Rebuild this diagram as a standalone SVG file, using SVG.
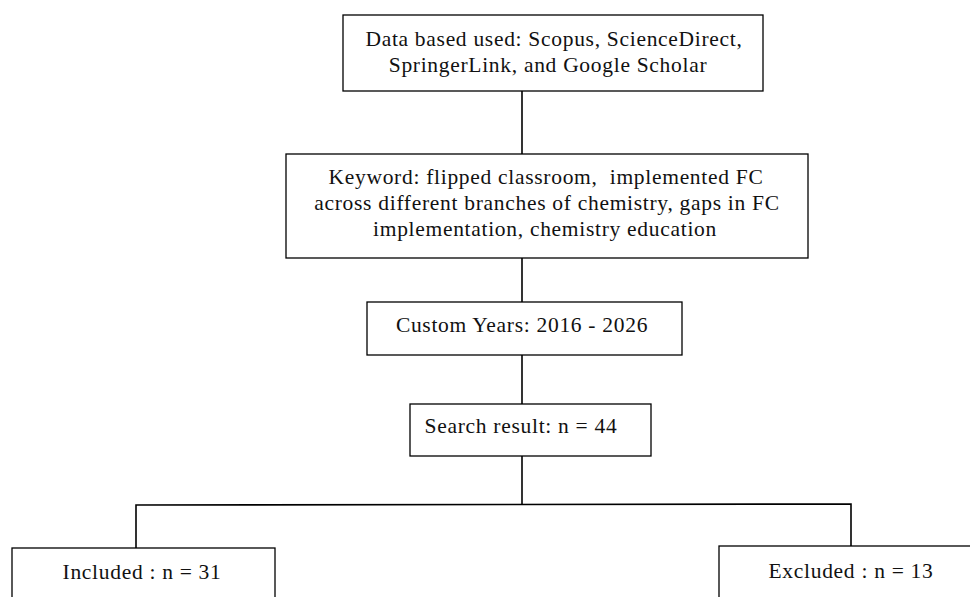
<svg xmlns="http://www.w3.org/2000/svg" width="970" height="597" viewBox="0 0 970 597">
<style>
.box{fill:#fff;stroke:#000;stroke-width:1.3}
.ln{stroke:#000;stroke-width:1.6;fill:none}
text{font-family:"Liberation Serif",serif;font-size:21.5px;letter-spacing:0.7px;fill:#111;text-anchor:middle}
</style>
<rect width="970" height="597" fill="#fff"/>
<g id="connectors">
<line class="ln" x1="522" y1="91" x2="522" y2="154"/>
<line class="ln" x1="522" y1="258" x2="522" y2="302"/>
<line class="ln" x1="522" y1="355" x2="522" y2="404"/>
<line class="ln" x1="522" y1="456" x2="522" y2="505"/>
<polyline class="ln" points="136,548 136,505 851,504 851,546"/>
</g>
<g id="n1"><rect class="box" x="343" y="15" width="420" height="76"/>
<text x="554" y="46">Data based used: Scopus, ScienceDirect,</text>
<text x="548" y="72">SpringerLink, and Google Scholar</text></g>
<g id="n2"><rect class="box" x="286" y="154" width="522" height="104"/>
<text x="546" y="184" xml:space="preserve">Keyword: flipped classroom,  implemented FC</text>
<text x="547" y="210">across different branches of chemistry, gaps in FC</text>
<text x="545" y="236">implementation, chemistry education</text></g>
<g id="n3"><rect class="box" x="367" y="302" width="315" height="53"/>
<text x="522" y="332">Custom Years: 2016 - 2026</text></g>
<g id="n4"><rect class="box" x="410" y="404" width="241" height="52"/>
<text x="521" y="433">Search result: n = 44</text></g>
<g id="n5"><rect class="box" x="12" y="548" width="263" height="60"/>
<text x="142" y="579">Included : n = 31</text></g>
<g id="n6"><rect class="box" x="719" y="546" width="260" height="60"/>
<text x="851" y="578">Excluded : n = 13</text></g>
</svg>
